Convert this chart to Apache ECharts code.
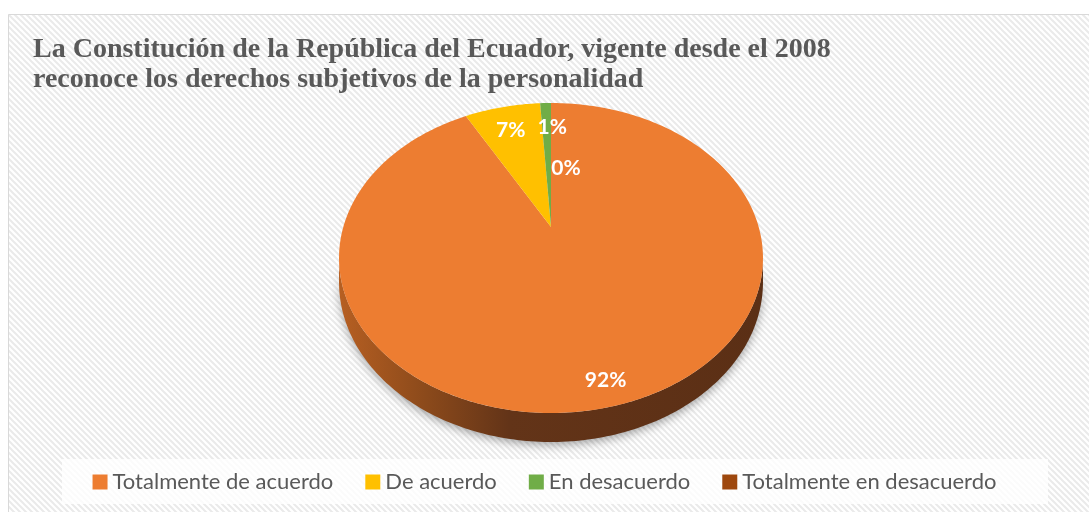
<!DOCTYPE html>
<html>
<head>
<meta charset="utf-8">
<script src="https://cdn.jsdelivr.net/npm/echarts@6/dist/echarts.min.js"></script>
<style>html,body{margin:0;padding:0;background:#fff;}#c{width:1089px;height:512px;}</style>
</head>
<body>
<div id="c"></div>
<script>
// ---- data ----
const titleLines = ['La Constitución de la República del Ecuador, vigente desde el 2008', 'reconoce los derechos subjetivos de la personalidad'];
const categories = ['Totalmente de acuerdo', 'De acuerdo', 'En desacuerdo', 'Totalmente en desacuerdo'];
const values = [92, 7, 1, 0];

// ---- style ----
const colors = ['#ED7D31', '#FFC000', '#70AD47', '#9E480E'];
const labelNudge = [[2, 7], [2, 8], [6, 8], [15, 49]];

const total = values.reduce((a, b) => a + b, 0);
const CX = 551, CY = 227, A = 207.7, B = 148.8, P = 0.2, H = 23.2;
function proj(u, v, d) { const w = 1 - P * v; return [CX + A * u / w, CY + B * v / w + H * d / w]; }
function pt(theta, f, d) { const r = theta * Math.PI / 180; return proj(f * Math.sin(r), -f * Math.cos(r), d); }
function arc(s, e, d) {
  const pts = []; const n = Math.max(2, Math.ceil((e - s) / 1));
  for (let k = 0; k <= n; k++) pts.push(pt(s + (e - s) * k / n, 1, d));
  return pts;
}

function makeRender(i) {
  return function (params, api) {
    const before = values.slice(0, i).reduce((a, b) => a + b, 0);
    const start = before / total * 360;
    const end = start + api.value(0) / total * 360;
    const children = [];
    const sideStart = Math.max(start, 101.5), sideEnd = Math.min(end, 258.5);
    if (sideEnd > sideStart) {
      const pts = arc(sideStart, sideEnd, 0).concat(arc(sideStart, sideEnd, 1).reverse());
      children.push({
        type: 'polygon', z2: 0, shape: { points: pts },
        style: {
          fill: { type: 'linear', x: 340, y: 0, x2: 763, y2: 0, global: true,
            colorStops: [{ offset: 0, color: '#B65F22' }, { offset: 0.2, color: '#8C4A1B' }, { offset: 0.4, color: '#633418' }, { offset: 1, color: '#5B2F15' }] },
          shadowBlur: 10, shadowColor: 'rgba(0,0,0,0.35)', shadowOffsetY: 3
        }
      });
    }
    if (end > start) {
      const pts = [pt(0, 0, 0)].concat(arc(start, end, 0));
      children.push({ type: 'polygon', z2: 10, shape: { points: pts }, style: { fill: colors[i] } });
    }
    const mid = (start + end) / 2;
    const lp = pt(mid, 0.85, 0);
    const pct = Math.round(api.value(0) / total * 100) + '%';
    children.push({
      type: 'text', z2: 20,
      style: { text: pct, x: lp[0] + labelNudge[i][0], y: lp[1] + labelNudge[i][1], fill: '#FFFFFF',
        font: 'bold 21px Lato', align: 'center', verticalAlign: 'middle' }
    });
    return { type: 'group', children: children };
  };
}

// stripe pattern
const tile = document.createElement('canvas');
tile.width = 6; tile.height = 6;
const g = tile.getContext('2d');
g.fillStyle = '#FFFFFF'; g.fillRect(0, 0, 6, 6);
g.strokeStyle = '#EAEAEA'; g.lineWidth = 2;
g.beginPath();
g.moveTo(-3, -3); g.lineTo(9, 9);
g.moveTo(-9, -3); g.lineTo(3, 9);
g.moveTo(3, -3); g.lineTo(15, 9);
g.stroke();

const chart = echarts.init(document.getElementById('c'), null, { renderer: 'canvas' });
chart.setOption({
  animation: false,
  backgroundColor: '#FFFFFF',
  title: {
    text: titleLines.join('\n'), left: 33, top: 35, padding: 0,
    textStyle: { fontFamily: 'Liberation Serif', fontWeight: 'bold', fontSize: 28, lineHeight: 30, color: '#595959' }
  },
  graphic: [
    { type: 'rect', z: -10, shape: { x: 8.5, y: 14.5, width: 1200, height: 600 },
      style: { fill: { image: tile, repeat: 'repeat' }, stroke: '#D9D9D9', lineWidth: 1 } },
    { type: 'rect', z: -9, shape: { x: 62, y: 459, width: 986, height: 45 },
      style: { fill: 'rgba(255,255,255,0.8)' } }
  ],
  legend: {
    data: categories, left: 'center', top: 471, padding: 0,
    icon: 'rect', itemWidth: 15, itemHeight: 15, itemGap: 32,
    textStyle: { fontFamily: 'Lato', fontSize: 22, color: '#595959' }
  },
  series: categories.map((name, i) => ({
    type: 'custom', name: name, coordinateSystem: 'none',
    itemStyle: { color: colors[i] },
    renderItem: makeRender(i),
    data: [[values[i]]]
  }))
});
</script>
</body>
</html>
